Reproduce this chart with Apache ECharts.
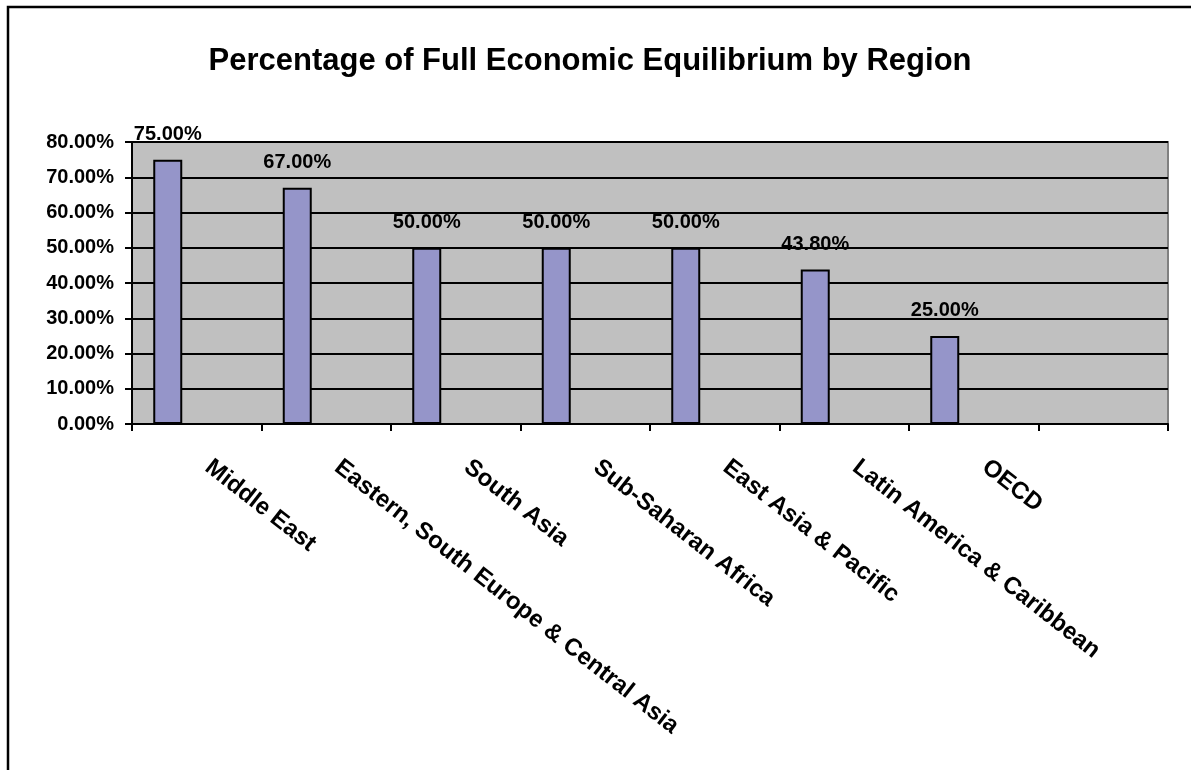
<!DOCTYPE html>
<html>
<head>
<meta charset="utf-8">
<script src="https://cdn.jsdelivr.net/npm/echarts@6/dist/echarts.min.js"></script>
<style>
html,body{margin:0;padding:0;background:#fff;}
#c{width:1191px;height:770px;}
</style>
</head>
<body>
<div id="c"></div>
<script>
var titleText = 'Percentage of Full Economic Equilibrium by Region';
var categories = ['Middle East', 'Eastern, South Europe & Central Asia', 'South Asia', 'Sub-Saharan Africa', 'East Asia & Pacific', 'Latin America & Caribbean', 'OECD'];
// last slot is an empty category (no label, no bar)
var categorySlots = categories.concat(['']);
var values = [0.75, 0.67, 0.50, 0.50, 0.50, 0.438, 0.25, null];
var emptySeries = [null, null, null, null, null, null, null, null];
var yTicks = { min: 0, max: 0.8, interval: 0.1 };

var FONT = '"Liberation Sans", Arial, sans-serif';
var chart = echarts.init(document.getElementById('c'), null, { renderer: 'canvas' });

function pct(v) { return (v * 100).toFixed(2) + '%'; }

var option = {
  animation: false,
  backgroundColor: '#ffffff',
  graphic: [
    {
      type: 'rect',
      shape: { x: 8, y: 7, width: 1400, height: 1000 },
      style: { fill: 'none', stroke: '#000', lineWidth: 2.5 },
      silent: true, z: -1
    },
    {
      type: 'text',
      style: {
        x: 590, y: 61, text: titleText,
        fill: '#000', font: 'bold 31px ' + FONT,
        textAlign: 'center', textVerticalAlign: 'middle'
      }
    }
  ],
  grid: {
    left: 132, right: 23, top: 142, bottom: 346,
    show: true, backgroundColor: '#C0C0C0', borderColor: '#808080', borderWidth: 2,
    containLabel: false
  },
  xAxis: {
    type: 'category',
    data: categorySlots,
    boundaryGap: true,
    axisLine: { show: true, lineStyle: { color: '#000', width: 2 } },
    axisTick: { show: true, length: 7, alignWithLabel: false, lineStyle: { color: '#000', width: 2 } },
    axisLabel: {
      interval: 0, rotate: -38, margin: 32, padding: [0, 0, 0, 14],
      color: '#000', fontFamily: FONT, fontWeight: 'bold', fontSize: 24
    },
    splitLine: { show: false }
  },
  yAxis: {
    type: 'value',
    min: yTicks.min, max: yTicks.max, interval: yTicks.interval,
    axisLine: { show: true, lineStyle: { color: '#000', width: 2 } },
    axisTick: { show: true, length: 7, lineStyle: { color: '#000', width: 2 } },
    axisLabel: {
      formatter: pct, margin: 18,
      color: '#000', fontFamily: FONT, fontWeight: 'bold', fontSize: 20
    },
    splitLine: { show: true, lineStyle: { color: '#000', width: 2 } }
  },
  series: [
    {
      type: 'bar', data: values, barWidth: 29, barGap: '0%',
      itemStyle: { color: '#9595C9', borderColor: '#000', borderWidth: 2 },
      label: {
        show: true, position: 'top', distance: 15,
        formatter: function (p) { return p.value == null ? '' : pct(p.value); },
        color: '#000', fontFamily: FONT, fontWeight: 'bold', fontSize: 20
      }
    },
    { type: 'bar', data: emptySeries, barWidth: 29, barGap: '0%' },
    { type: 'bar', data: emptySeries, barWidth: 29, barGap: '0%' }
  ]
};
chart.setOption(option);
</script>
</body>
</html>
